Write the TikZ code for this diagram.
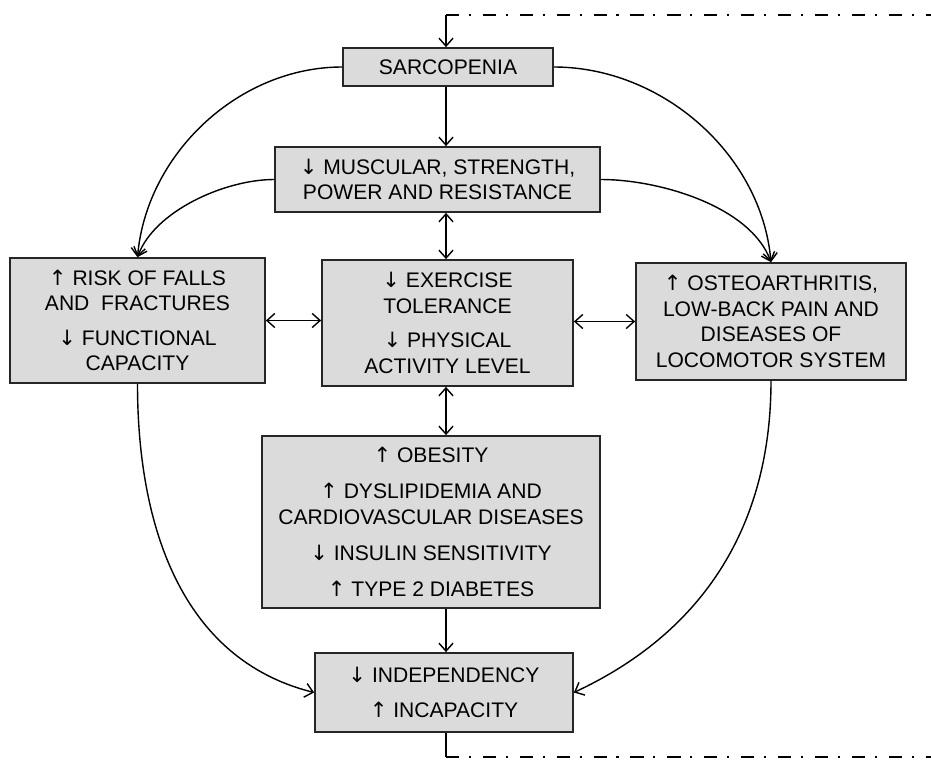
\documentclass[tikz,border=0pt]{standalone}
\usepackage{fontspec}
\setmainfont{Liberation Sans}
\newfontfamily\arrfont{DejaVu Sans}
\usetikzlibrary{arrows.meta,calc}
\newcommand\UA{{\arrfont ↑}}
\newcommand\DA{{\arrfont ↓}}
\begin{document}
\begin{tikzpicture}[x=0.02cm,y=-0.02cm,
  box/.style={draw=black!85,line width=1pt,fill=black!14,align=center,inner sep=0pt,
    font=\fontsize{12}{14.5}\selectfont},
  conn/.style={line width=0.8pt,-{Straight Barb[length=4.5pt,width=8pt]}},
  both/.style={line width=0.8pt,{Straight Barb[length=4.5pt,width=8pt]}-{Straight Barb[length=4.5pt,width=8pt]}},
  fb/.style={line width=1.1pt,dash pattern=on 7.5pt off 5.5pt on 1.2pt off 6.8pt}]
\useasboundingbox (0,0) rectangle (931,764);
\node[box,minimum width=4.2cm,minimum height=0.76cm] (sarc) at (448,67) {SARCOPENIA};
\node[box,minimum width=6.5cm,minimum height=1.3cm] (musc) at (437.5,179.5) {\DA\ MUSCULAR, STRENGTH,\\POWER AND RESISTANCE};
\node[box,minimum width=5.1cm,minimum height=2.5cm] (left) at (137.5,320.5) {\UA\ RISK OF FALLS\\AND\ \ FRACTURES\\[5pt]\DA\ FUNCTIONAL\\CAPACITY};
\node[box,minimum width=5.02cm,minimum height=2.52cm] (cent) at (447.5,323) {\DA\ EXERCISE\\TOLERANCE\\[5pt]\DA\ PHYSICAL\\ACTIVITY LEVEL};
\node[box,minimum width=5.4cm,minimum height=2.34cm] (right) at (771,321.5) {\UA\ OSTEOARTHRITIS,\\LOW-BACK PAIN AND\\DISEASES OF\\LOCOMOTOR SYSTEM};
\node[box,minimum width=6.76cm,minimum height=3.44cm] (obes) at (431,522) {\UA\ OBESITY\\[6pt]\UA\ DYSLIPIDEMIA AND\\CARDIOVASCULAR DISEASES\\[6pt]\DA\ INSULIN SENSITIVITY\\[6pt]\UA\ TYPE 2 DIABETES};
\node[box,minimum width=5.16cm,minimum height=1.58cm] (bott) at (444,692.5) {\DA\ INDEPENDENCY\\[5pt]\UA\ INCAPACITY};
\coordinate (fbtop) at (446,15);
\coordinate (fbtopR) at (931,15);
\coordinate (fbbot) at (446,757);
\coordinate (fbbotR) at (931,757);
% vertical chain
\draw[conn] (446,0 |- sarc.south) -- (446,0 |- musc.north);
\draw[both] (446,0 |- musc.south) -- (446,0 |- cent.north);
\draw[both] (446,0 |- cent.south) -- (446,0 |- obes.north);
\draw[conn] (446,0 |- obes.south) -- (446,0 |- bott.north);
% horizontal
\draw[both] (left.east) -- (cent.west |- left.east);
\draw[both] (cent.east |- right.west) -- (right.west);
% curves top
\draw[conn] (sarc.west) to[out=180,in=85,looseness=0.95] (left.north);
\draw[conn] (musc.west) to[out=180,in=70,looseness=0.8] (left.north);
\draw[conn] (sarc.east) to[out=0,in=95,looseness=0.95] (right.north);
\draw[conn] (musc.east) to[out=0,in=110,looseness=0.8] (right.north);
% curves bottom
\draw[conn] (left.south) to[out=-90,in=166,looseness=1] (bott.west);
\draw[conn] (right.south) to[out=-90,in=25,looseness=1] (bott.east);
% feedback
\draw[conn] (fbtop) -- (446,0 |- sarc.north);
\draw[fb] (fbtop) -- (fbtopR);
\draw[line width=0.8pt] (446,0 |- bott.south) -- (fbbot);
\draw[fb] (fbbot) -- (fbbotR);
\end{tikzpicture}
\end{document}
